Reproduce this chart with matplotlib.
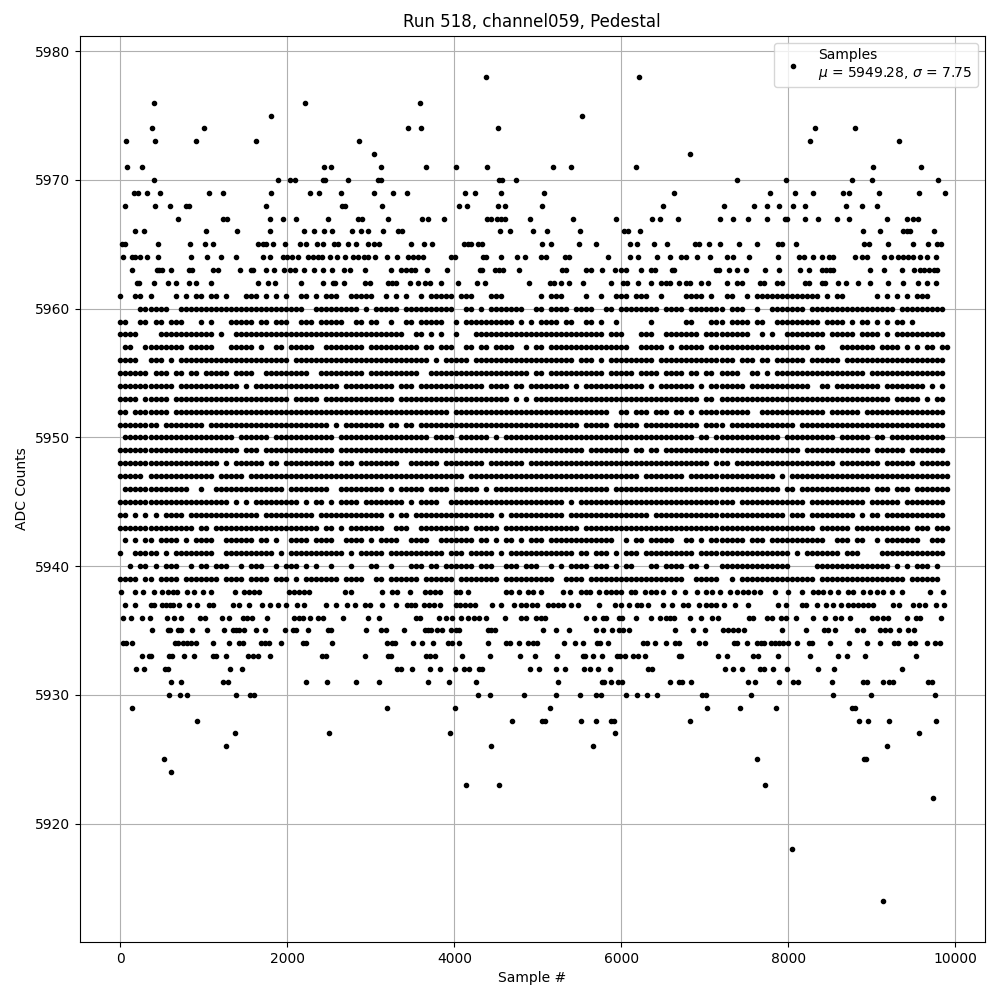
import matplotlib
matplotlib.use('Agg')
import matplotlib.pyplot as plt

title = 'Run 518, channel059, Pedestal'
mean_adc = 5949.28
sigma_adc = 7.75

# sparse ADC levels: sample numbers
sparse_levels = {
    5978: [4373, 6207],
    5976: [404, 2215, 3594],
    5975: [1807, 5523],
    5974: [380, 1004, 3450, 3605, 4520, 8320, 8800],
    5973: [68, 416, 908, 1618, 2862, 8257, 9325],
    5972: [3042, 6820],
    5971: [80, 260, 2442, 2527, 3126, 3666, 4025, 4385, 5176, 5403, 6175, 9015, 9590],
    5970: [396, 1884, 2036, 2096, 2424, 2456, 2724, 3084, 3124, 4536, 4576, 4740, 7388, 7968, 8768, 9008, 9788],
    5969: [164, 208, 312, 468, 1056, 1228, 1800, 2268, 2376, 2640, 3036, 3264, 3432, 4128, 4252, 4560, 5072,
           6632, 7784, 8084, 8300, 8660, 8732, 9092, 9560, 9872],
    5968: [52, 408, 588, 784, 824, 1744, 2656, 2688, 3132, 4056, 4152, 4524, 4608, 5048, 6500, 7232, 7592,
           7748, 7892, 8060, 8204, 8696, 8888, 9068],
    5967: [684, 1232, 1272, 1788, 1944, 2100, 2484, 2844, 2896, 3208, 3608, 3684, 3876, 4392, 4444, 4512, 4564,
           4604, 4908, 5420, 5936, 6368, 6464, 6680, 7184, 7340, 7520, 7748, 7964, 7988, 8200, 8360, 8588, 8732,
           9188, 9428, 9488, 9548],
    5966: [176, 288, 1020, 1396, 1788, 2196, 2316, 2436, 2536, 2772, 2880, 2964, 3144, 3324, 3372, 4552, 4672,
           4944, 5104, 5504, 6028, 6080, 6224, 8900, 9104, 9380, 9420, 9452, 9740],
    5965: [24, 56, 444, 828, 1008, 1104, 1644, 1704, 1744, 1824, 1972, 2148, 2220, 2352, 2424, 2564, 2608, 2724,
           2820, 2964, 3032, 3096, 3480, 3636, 3732, 4112, 4164, 4204, 4280, 4328, 5048, 5156, 5492, 5696, 6104,
           6188, 6392, 6548, 6884, 6932, 7052, 7180, 7412, 7628, 7880, 7920, 8096, 8912, 8968, 9200, 9488, 9668,
           9776, 9824],
    5964: [36, 136, 176, 232, 312, 452, 844, 1032, 1200, 1380, 1712, 1792, 1944, 1992, 2056, 2124, 2244, 2304,
           2364, 2412, 2508, 2596, 2684, 2784, 2844, 2916, 2964, 3044, 3196, 3316, 3444, 3504, 3564, 3624, 3964,
           4004, 4344, 4376, 4560, 4752, 4844, 5040, 5092, 5324, 5372, 5840, 6104, 6200, 6428, 6584, 6720, 6780,
           6908, 7064, 7260, 7340, 7532, 7880, 8132, 8192, 8300, 8404, 8492, 8540, 8804, 8880, 8940, 9152, 9228,
           9320, 9380, 9440, 9492, 9572, 9656, 9764],
    5963: [144, 432, 464, 496, 600, 816, 856, 1104, 1164, 1428, 1564, 1592, 1748, 1844, 1964, 2032, 2092, 2204,
           2316, 2424, 2532, 2676, 2744, 2924, 3244, 3364, 3424, 3484, 3524, 3672, 3912, 4304, 4336, 4484, 4532,
           4584, 4776, 5292, 5340, 5580, 5640, 5768, 5928, 6000, 6060, 6240, 6360, 6400, 6604, 6628, 7140, 7168,
           7292, 7388, 7496, 7724, 7892, 8144, 8252, 8400, 8452, 8500, 8540, 8984, 9148, 9360, 9500, 9572, 9620,
           9680, 9740, 9780],
    5962: [196, 224, 396, 564, 664, 816, 904, 1084, 1644, 1764, 1856, 2160, 2424, 2544, 2576, 2676, 2924, 2984,
           3204, 3256, 3304, 3472, 3564, 3644, 3704, 3844, 4044, 4272, 4372, 4896, 5140, 5188, 5280, 5372, 5540,
           5880, 6020, 6068, 6204, 6360, 6480, 6540, 6580, 6692, 6780, 6820, 6960, 7040, 7268, 7380, 7448, 7660,
           7708, 7868, 7928, 8200, 8252, 8400, 8444, 8600, 8692, 8840, 8980, 9200, 9380, 9548, 9660, 9772],
    5938: [8, 176, 272, 396, 492, 564, 632, 672, 796, 876, 984, 1084, 1368, 1484, 1544, 1604, 1664, 2024, 2084,
           2144, 2204, 2264, 2684, 2764, 3136, 3256, 3312, 3472, 3644, 3704, 3764, 3824, 4024, 4064, 4164, 4624,
           4684, 4776, 4884, 4944, 5040, 5300, 5380, 5520, 5580, 5628, 5732, 5820, 5880, 5940, 6000, 6120, 6160,
           6280, 6360, 6420, 6500, 6632, 6764, 6912, 7020, 7092, 7184, 7300, 7380, 7460, 7520, 7592, 7660, 7840,
           8000, 8160, 8300, 8360, 8420, 8500, 8600, 8720, 8780, 8892, 8980, 9060, 9140, 9240, 9360, 9692, 9848],
    5937: [52, 172, 364, 404, 492, 544, 592, 624, 696, 816, 912, 1056, 1112, 1352, 1424, 1540, 1692, 1796, 1884,
           1980, 2112, 2196, 2464, 2580, 2708, 2808, 2924, 2992, 3136, 3300, 3432, 3484, 3524, 3640, 3696, 3756,
           3828, 4016, 4064, 4124, 4184, 4244, 4456, 4564, 4720, 4804, 4856, 4924, 4984, 5120, 5180, 5240, 5300,
           5400, 5480, 5732, 5920, 6000, 6092, 6188, 6240, 6320, 6500, 6608, 6740, 6800, 6928, 7020, 7080, 7140,
           7232, 7364, 7520, 7876, 7972, 8160, 8212, 8348, 8448, 8540, 8628, 8720, 8780, 8840, 8900, 8960, 9020,
           9260, 9332, 9492, 9560, 9640, 9772, 9860],
    5936: [36, 132, 260, 348, 552, 636, 724, 952, 1008, 1212, 1296, 1472, 1516, 1576, 1756, 2084, 2144, 2184,
           2268, 2364, 2432, 2664, 2968, 3096, 3536, 3592, 3816, 3904, 3976, 4084, 4164, 4232, 4296, 4384, 4608,
           4804, 4856, 4976, 5032, 5080, 5576, 5676, 5780, 5820, 5972, 6004, 6176, 6356, 6468, 6532, 6580, 6628,
           6824, 6956, 7084, 7156, 7532, 7580, 7740, 7800, 7916, 7972, 8096, 8300, 8436, 8564, 8632, 8744, 9000,
           9068, 9132, 9192, 9428, 9532, 9580, 9824],
    5935: [372, 564, 592, 684, 724, 852, 1032, 1236, 1344, 1384, 1424, 1484, 1620, 1732, 1968, 2072, 2104, 2252,
           2484, 2524, 2940, 3116, 3176, 3396, 3644, 3684, 3724, 3792, 3852, 3956, 4016, 4056, 4404, 4444, 4484,
           5060, 5216, 5372, 5692, 5780, 5888, 5968, 6020, 6092, 6648, 6860, 7004, 7220, 7280, 7332, 7400, 7464,
           7928, 8216, 8428, 8480, 8564, 8820, 8900, 9100, 9160, 9220, 9332, 9440, 9500],
    5934: [32, 64, 144, 656, 684, 744, 792, 844, 904, 1104, 1296, 1424, 1472, 1684, 1732, 1784, 1920, 2192, 2224,
           2532, 3192, 3256, 3284, 3504, 3612, 3744, 3924, 3972, 4056, 4404, 4616, 4664, 4776, 4884, 4936, 4984,
           5308, 5440, 5540, 5708, 5748, 5840, 6260, 6308, 6408, 6536, 6640, 6692, 6932, 7000, 7352, 7380, 7508,
           7620, 7668, 7708, 7788, 7840, 7892, 7940, 8000, 8108, 8252, 8280, 8504, 8732, 8940, 9100, 9268, 9320,
           9460, 9520, 9660, 9760, 9820],
    5933: [264, 344, 364, 584, 616, 756, 884, 1112, 1144, 1260, 1532, 1584, 1644, 1788, 2416, 2464, 2928, 3204,
           3244, 3664, 3712, 3764, 4096, 4428, 4788, 4968, 5228, 5540, 5560, 5660, 5768, 5948, 5980, 6048, 6140,
           6200, 6284, 6688, 6716, 7160, 7260, 7580, 7640, 7880, 8264, 8600, 8700, 8920, 9528],
    5932: [192, 280, 536, 564, 1308, 1456, 3312, 3364, 3492, 3708, 3828, 4004, 4116, 4176, 4296, 4336, 4908, 5008,
           5220, 5324, 5552, 5624, 5724, 5864, 6320, 6372, 7244, 7340, 7448, 7660, 7708, 7812, 7988, 8360, 8544, 9360],
    5931: [600, 720, 1224, 1284, 2220, 2472, 2820, 3096, 3684, 3936, 4260, 5240, 5768, 5788, 5876, 5960, 6008,
           6584, 6688, 6732, 6836, 7520, 7604, 7892, 8060, 8112, 8528, 8900, 8948, 9140, 9212, 9260, 9668, 9720],
    5930: [576, 708, 792, 1380, 1552, 1596, 4284, 4432, 4836, 5216, 5504, 5700, 5756, 6056, 6188, 6308, 6428,
           6968, 7020, 7556, 8540, 8996, 9756],
    5929: [144, 3192, 4008, 5144, 7028, 7424, 7848, 8768, 8804],
    5928: [920, 4690, 5050, 5080, 5520, 5700, 5880, 5910, 6820, 8850, 8960, 9210, 9770],
    5927: [1370, 2500, 3950, 5930, 9560],
    5926: [1260, 4440, 5660, 9180],
    5925: [520, 7625, 8910, 8930],
    5924: [600],
    5923: [4140, 4530, 7720],
    5922: [9730],
    5918: [8050],
    5914: [9140],
}

# dense ADC levels, 5961 down to 5939: '#' marks a sample seen in that 60-sample slot
dense_top = 5961
slot_width = 60

dense_left_start = 0
dense_left = [
    '#..##.#....#.#.##.##.#...###.#.#.#..##.#.###..#####..#',
    '....######..#########################..#########.#.###',
    '##..##.##.###...#.#...#####.##.###..###.#####..##.##..',
    '####....###########.#..###############################',
    '.##..########.#####...#####.#..##.#####..########.####',
    '####..###.#.######################.###################',
    '######.###.##.##.#####.####..#########..#########.####',
    '###########.############.#.#################.#########',
    '####.#####.#######################.#####.#############',
    '##.#######.###########################################',
    '########.########.########################.#.########.',
    '.######################.######.############.##########',
    '########################.###.##############.##########',
    '####################.#.######.##.##########.###.######',
    '#####.#############.#####.############################',
    '.#############..#..##############.########..#########.',
    '######################.#.#.#########.#.##.#.####.#####',
    '##.#.#.#.####.##############.##########.#############.',
    '###############.##.#####################.##.#.#######.',
    '.#.#.##.####.#.####..######.##.#..####.####..####.#.##',
    '#..#####.#.########..##########.#.###########.#.#####',
    '..#.##.#.###..#.##.###..#.###..#.###.#.#..#...#...##..',
    '####.##.####.#######.####.####.###.#.#######.####..##.',
]

dense_mid_start = 3240
dense_mid = [
    '.#.#..#.#####.###...###.......#.###....#..#..###.###..#...',
    '##.##########..##.#.#######..##.####.####..##.########.###',
    '#..##.#####..#.##########.#.#.####.##..##.#..#......#.....',
    '###..##.#.#..#...##########################.###...###..###',
    '######.##.###..##.##.####..#.##.################..#####.#.',
    '########.#.#####.####################.###.#.#########.####',
    '######..####################.##.###########.#####.####.###',
    '#.###.#############.####.##.########.#.############.#.####',
    '#.######################.#.#.#############################',
    '############.###############################..##.###.###.#',
    '##.##.################################.#####.#####.#######',
    '########.####.######.#.###################################',
    '#######################################.########.##.##.###',
    '##..######.########.#######.##############################',
    '###############.##################################.#######',
    '#.#####.####.#####.#.#######################.#############',
    '###.#.####..#######################.#.####################',
    '#.##.################.#.###########.################.#####',
    '.###..##########.#####.###############.###################',
    '##..####..#######.##.#.##.#.###.#############..#.##.#####.',
    '###########.###.#####.#.#############.##.###.#.###.#######',
    '#...###.##.######.###..###.###..#.#.####.###.#.##...##.###',
    '######.######.########.##########..####.##################',
]

dense_right_start = 6720
dense_right = [
    '.####.#..##..#.#############.#.##......#.#.#.#.###....',
    '#.#######.###..#..#######.#################.#########.',
    '.##...###.####.##..#########.####.#.##.#.#.##.#.......',
    '####.#########..#.#..########.#####.####.#.##########.',
    '#####.####################.##...#######.####.#.#.##.##',
    '###########.###.##.######.######.####################.',
    '#.##.##.####..##.#.##################.###############.',
    '###.#.#######.############..##.#########.########.#.#.',
    '####.##.##################################.#####.#.##.',
    '#.#.##########..#############.######.################.',
    '####.####.#############.#############################.',
    '###.##.#############.##########.######.##.###########.',
    '########################.#############.######.#######.',
    '######.###.####################.########.######.######',
    '#.#################.#.################################',
    '####################.##.##############.###.###.#######',
    '###########.#############.###########.######.########.',
    '#####################.###.#########.#.##.############.',
    '###########################.######.###########.###.###',
    '.##.#.#######.###.###########..###.##..#.#######..###.',
    '###.##################.#.#######.###....#############.',
    '#.##.#..##############.....###############.#.#.###.#..',
    '#..#####..#.###############.#################.######..',
]


def read_samples():
    x_range = []
    y_range = []
    for level, samples in sparse_levels.items():
        x_range += samples
        y_range += [level] * len(samples)
    for start, rows in ((dense_left_start, dense_left), (dense_mid_start, dense_mid), (dense_right_start, dense_right)):
        for row_num, row in enumerate(rows):
            for slot, mark in enumerate(row):
                if mark == '#':
                    x_range.append(start + slot * slot_width)
                    y_range.append(dense_top - row_num)
    return x_range, y_range


def plot_pedestal():
    x_range, y_range = read_samples()
    f = plt.figure(figsize=(10, 10), dpi=100)
    label = 'Samples\n$\\mu$ = {:.2f}, $\\sigma$ = {:.2f}'.format(mean_adc, sigma_adc)
    plt.plot(x_range, y_range, 'k.', label=label)
    plt.xlim(-487, 10354)
    plt.title(title)
    plt.xlabel('Sample #')
    plt.ylabel('ADC Counts')
    plt.grid(True)
    plt.legend(loc='upper right')
    f.subplots_adjust(left=0.0798, right=0.9848, top=0.9642, bottom=0.058)
    f.savefig('out.png')


if __name__ == '__main__':
    plot_pedestal()
